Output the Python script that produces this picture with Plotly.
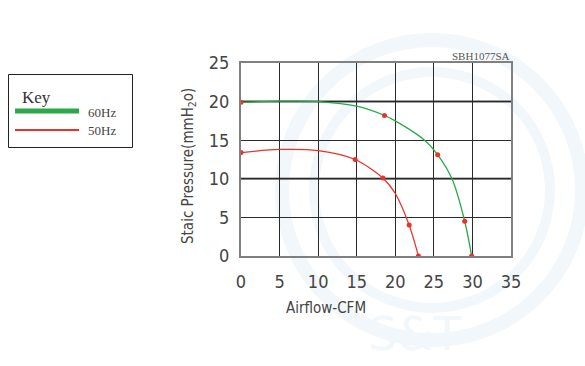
import plotly.graph_objects as go

# --- data ---
pts60_x = [0, 18.6, 25.5, 29.0, 29.9]
pts60_y = [19.9, 18.2, 13.1, 4.5, 0.0]
pts50_x = [0, 14.8, 18.4, 21.8, 23.0]
pts50_y = [13.4, 12.5, 10.1, 4.0, 0.0]

# curve traces
curve60_x = [0, 5, 10, 15, 18.6, 20, 23.8, 25.5, 27.35, 29.0, 29.9]
curve60_y = [19.9, 20.05, 20.0, 19.4, 18.2, 17.5, 15.0, 13.1, 10.0, 4.5, 0.0]
curve50_x = [0, 5, 10, 14.8, 18.4, 20, 21.8, 23.0]
curve50_y = [13.4, 13.8, 13.65, 12.5, 10.1, 8.1, 4.0, 0.0]

x_ticks = [0, 5, 10, 15, 20, 25, 30, 35]
y_ticks = [0, 5, 10, 15, 20, 25]
series_names = ["60Hz", "50Hz"]
model = "SBH1077SA"

GREEN = "#2aa84a"
RED = "#e8322c"
W, H = 585, 366
L, R, T, B = 241, 511, 63, 256


def px(x):
    return (x - L) / (R - L)


def py(y):
    return (B - y) / (B - T)


fig = go.Figure()
fig.add_trace(go.Scatter(x=curve60_x, y=curve60_y, mode="lines", line=dict(color=GREEN, width=1.3, shape="spline", smoothing=0.8), showlegend=False))
fig.add_trace(go.Scatter(x=curve50_x, y=curve50_y, mode="lines", line=dict(color=RED, width=1.3, shape="spline", smoothing=0.8), showlegend=False))
fig.add_trace(go.Scatter(x=pts60_x, y=pts60_y, mode="markers", marker=dict(color=RED, size=5), showlegend=False))
fig.add_trace(go.Scatter(x=pts50_x, y=pts50_y, mode="markers", marker=dict(color=RED, size=5), showlegend=False))

shapes = []
# faint watermark circles
for r, w in [(150, 14), (118, 10)]:
    cx, cy = 432, 190
    shapes.append(dict(type="circle", xref="paper", yref="paper", x0=px(cx - r), x1=px(cx + r), y0=py(cy + r), y1=py(cy - r),
                       line=dict(color="#f2f7fc", width=w), layer="below"))
# thicker grey grid lines at 10 and 20
for v in [10, 20]:
    shapes.append(dict(type="line", xref="paper", yref="y", x0=0, x1=1, y0=v, y1=v, line=dict(color="#808080", width=2.5), layer="between"))
# legend box
shapes.append(dict(type="rect", xref="paper", yref="paper", x0=px(8.5), x1=px(132.5), y0=py(147.5), y1=py(74.5), line=dict(color="#222", width=1)))
shapes.append(dict(type="line", xref="paper", yref="paper", x0=px(15), x1=px(79), y0=py(111), y1=py(111), line=dict(color=GREEN, width=5)))
shapes.append(dict(type="line", xref="paper", yref="paper", x0=px(15), x1=px(79), y0=py(130), y1=py(130), line=dict(color=RED, width=2)))

ann = []
ann.append(dict(text="Key", xref="paper", yref="paper", x=px(20), y=py(97), xanchor="left", yanchor="middle", showarrow=False,
                font=dict(family="Liberation Serif", size=17, color="#333")))
for name, yy in zip(series_names, [112, 130]):
    ann.append(dict(text=name, xref="paper", yref="paper", x=px(86), y=py(yy), xanchor="left", yanchor="middle", showarrow=False,
                    font=dict(family="Liberation Serif", size=13, color="#444")))
ann.append(dict(text=model, xref="paper", yref="paper", x=px(512), y=py(56), xanchor="right", yanchor="middle", showarrow=False,
                font=dict(family="Liberation Serif", size=11, color="#555")))
ann.append(dict(text="Airflow-CFM", xref="paper", yref="paper", x=px(326), y=py(308), xanchor="center", yanchor="middle", showarrow=False,
                font=dict(family="DejaVu Sans Condensed", size=15, color="#444")))
ann.append(dict(text="Staic Pressure(mmH<sub>2</sub>o)", xref="paper", yref="paper", x=px(188), y=py(166), xanchor="center", yanchor="middle",
                textangle=-90, showarrow=False, font=dict(family="DejaVu Sans Condensed", size=15, color="#444")))
# faint watermark text
ann.append(dict(text="S&T", xref="paper", yref="paper", x=px(415), y=py(334), xanchor="center", yanchor="middle", showarrow=False,
                font=dict(family="DejaVu Sans", size=46, color="#f2f7fc")))

tickfont = dict(family="DejaVu Sans Condensed", size=18, color="#444")
fig.update_layout(
    width=W, height=H, margin=dict(l=L, r=W - R, t=T, b=H - B),
    paper_bgcolor="white", plot_bgcolor="rgba(0,0,0,0)",
    shapes=shapes, annotations=ann,
    xaxis=dict(range=[0, 35], tickvals=x_ticks, showgrid=True, gridcolor="#2a2a2a", gridwidth=1, zeroline=False,
               showline=True, mirror=True, linecolor="#808080", linewidth=2, ticks="", tickfont=tickfont, ticklabelstandoff=8),
    yaxis=dict(range=[0, 25], tickvals=y_ticks, showgrid=True, gridcolor="#2a2a2a", gridwidth=1, zeroline=False,
               showline=True, mirror=True, linecolor="#808080", linewidth=2, ticks="", tickfont=tickfont, ticklabelstandoff=6),
)
fig.write_html("out.html", config={"displayModeBar": False})

# remove the default page margin so the figure sits at the window's top-left corner
with open("out.html", encoding="utf-8") as f:
    html = f.read()
html = html.replace("<body>", '<body style="margin:0;padding:0;overflow:hidden">', 1)
with open("out.html", "w", encoding="utf-8") as f:
    f.write(html)
